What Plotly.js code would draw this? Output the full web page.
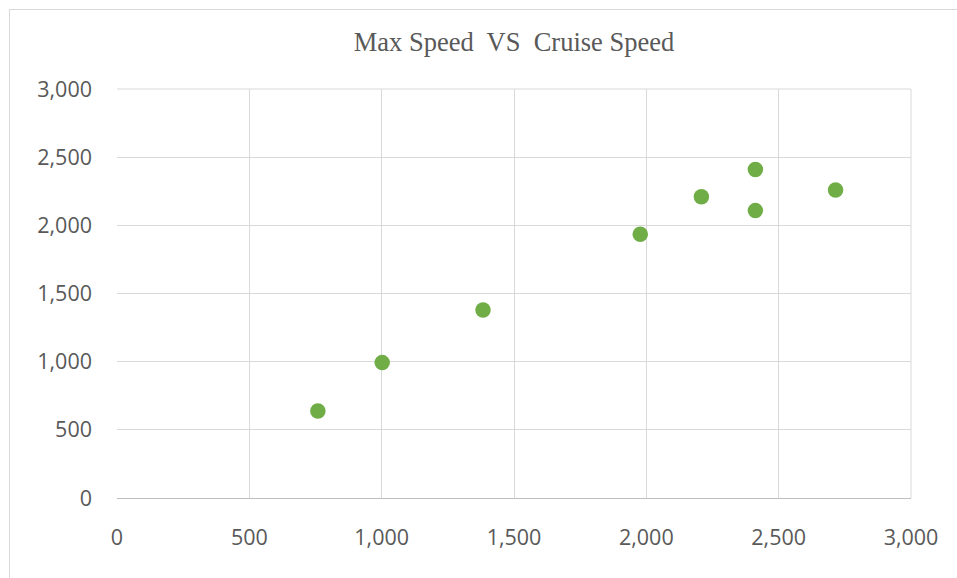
<!DOCTYPE html>
<html><head><meta charset="utf-8">
<script src="https://cdn.plot.ly/plotly-3.0.1.min.js"></script>
<style>
html,body{margin:0;padding:0;background:#fff;overflow:hidden;}
#frame{position:absolute;left:9px;top:9px;width:960px;height:580px;border:1px solid #d9d9d9;box-sizing:border-box;}
#chart{position:absolute;left:0;top:0;width:957px;height:578px;}
</style></head>
<body>
<div id="frame"></div>
<div id="chart"></div>
<script>
const chartTitle = "Max Speed  VS  Cruise Speed";
const maxSpeed = [759, 1002, 1383, 1977, 2208, 2412, 2412, 2715];
const cruiseSpeed = [638, 993, 1379, 1934, 2210, 2410, 2108, 2259];
const tickVals = [0, 500, 1000, 1500, 2000, 2500, 3000];
const tickText = ["0", "500", "1,000", "1,500", "2,000", "2,500", "3,000"];

const tickFont = {family: "Open Sans, Liberation Sans, sans-serif", size: 21.5, color: "#595959"};

Plotly.newPlot("chart", [{
  x: maxSpeed, y: cruiseSpeed, type: "scatter", mode: "markers",
  marker: {color: "#70ad47", size: 15.5, line: {width: 0}},
  hoverinfo: "x+y"
}], {
  width: 957, height: 578,
  paper_bgcolor: "rgba(0,0,0,0)", plot_bgcolor: "rgba(0,0,0,0)",
  margin: {l: 117, r: 46, t: 89, b: 80, pad: 0},
  title: {text: chartTitle, font: {family: "Liberation Serif, Times New Roman, serif", size: 26.5, color: "#595959"}, x: 0.5, xanchor: "center", y: 1 - 42/578, yanchor: "middle", xref: "paper"},
  showlegend: false,
  xaxis: {range: [0, 3000], tickvals: tickVals, ticktext: tickText, showgrid: true, gridcolor: "#d9d9d9", gridwidth: 1,
    zeroline: false, showline: true, linecolor: "#bfbfbf", linewidth: 1, ticks: "", tickfont: tickFont, ticklabelstandoff: 20, fixedrange: true},
  yaxis: {range: [0, 3000], tickvals: tickVals, ticktext: tickText, showgrid: true, gridcolor: "#d9d9d9", gridwidth: 1,
    zeroline: false, showline: false, ticks: "", tickfont: tickFont, ticklabelstandoff: 24, fixedrange: true},
  shapes: [
    {type: "line", xref: "paper", yref: "paper", x0: 1, x1: 1, y0: 0, y1: 1, line: {color: "#d9d9d9", width: 1}},
    {type: "line", xref: "paper", yref: "paper", x0: 0, x1: 1, y0: 1, y1: 1, line: {color: "#d9d9d9", width: 1}}
  ]
}, {displayModeBar: false, staticPlot: true});
</script>
</body></html>
